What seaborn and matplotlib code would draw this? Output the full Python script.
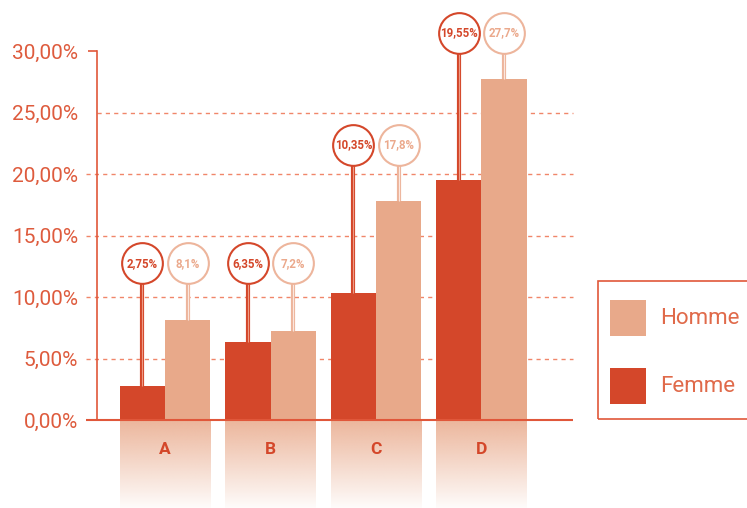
import numpy as np
import pandas as pd
import matplotlib
matplotlib.use("Agg")
import matplotlib.pyplot as plt
from matplotlib.patches import Rectangle
from matplotlib.colors import to_rgb
import seaborn as sns

# ---- data -------------------------------------------------------------
categories = ["A", "B", "C", "D"]
femme = [2.75, 6.35, 10.35, 19.55]
homme = [8.1, 7.2, 17.8, 27.7]
series = ["Femme", "Homme"]
y_ticks = [0, 5, 10, 15, 20, 25, 30]
y_tick_labels = ["0,00%", "5,00%", "10,00%", "15,00%", "20,00%", "25,00%", "30,00%"]

# height (in %) at which the value bubbles of each group sit
bubble_level = [12.75, 12.75, 22.35, 31.5]

# ---- style ------------------------------------------------------------
C_FEMME = "#D4472A"
C_HOMME = "#E8A98A"
C_AXIS = "#E0573A"
C_GRID = "#F0866A"
C_TEXT = "#DE5B3D"
C_HOMME_TXT = "#EBA98C"
C_LEGEND_TXT = "#E06A4A"

sns.set_style("white")
plt.rcParams["font.family"] = ["Roboto", "DejaVu Sans"]

W, H = 747, 508
fig = plt.figure(figsize=(W / 100, H / 100), dpi=100)
ax_left_px = 97
ax = fig.add_axes([ax_left_px / W, 0, 1 - ax_left_px / W, 1])

df = pd.DataFrame({
    "cat": categories * 2,
    "sexe": [series[0]] * len(categories) + [series[1]] * len(categories),
    "val": femme + homme,
})

sns.barplot(data=df, x="cat", y="val", hue="sexe", hue_order=series,
            palette={"Femme": C_FEMME, "Homme": C_HOMME}, width=0.86,
            saturation=1, linewidth=0, legend=False, ax=ax)

# axis geometry: x=0 at 165 px, 105.5 px per category; y=0 at 420 px, 12.3 px per %
px_x = 105.5
x0_px = 165
xlim = (-(x0_px - ax_left_px) / px_x, (W - x0_px) / px_x)
py = 12.3
ylim = (-(H - 420) / py, 420 / py)


def px_to_x(px):
    return (px - x0_px) / px_x


# faded panels below each group
grad_rgb = np.array(to_rgb("#E9A98A"))
alpha = np.linspace(0.85, 0.04, 200)
grad = np.zeros((200, 1, 4))
grad[:, 0, :3] = grad_rgb
grad[:, 0, 3] = alpha
half = 0.43
for i, cat in enumerate(categories):
    ax.imshow(grad, extent=[i - half, i + half, ylim[0], 0], aspect="auto",
              origin="upper", zorder=0, interpolation="bilinear")
    ax.text(i, -2.36, cat, ha="center", va="center", fontsize=12.5,
            fontweight="bold", color=C_FEMME)
ax.set_xlim(*xlim)
ax.set_ylim(*ylim)

# grid lines, base line and axis
gx0, gx1 = px_to_x(86), px_to_x(573)
for t in y_ticks[1:-1]:
    start = gx0 if t < 25 else px_to_x(ax_left_px)
    ax.hlines(t, start, gx1, colors=C_GRID, linestyles=(0, (3, 3)), lw=1,
              zorder=0.5, clip_on=False)
ax.hlines(30, px_to_x(88), px_to_x(ax_left_px), colors=C_AXIS, lw=1.2, clip_on=False)
ax.hlines(0, gx0, gx1, colors=C_AXIS, lw=1.5, zorder=3, clip_on=False)

for s in ["top", "right", "bottom"]:
    ax.spines[s].set_visible(False)
ax.spines["left"].set_bounds(0, 30)
ax.spines["left"].set_color(C_AXIS)
ax.spines["left"].set_linewidth(1.2)
ax.set_yticks(y_ticks, y_tick_labels)
ax.tick_params(axis="y", length=0, pad=13.7, labelsize=15, labelcolor=C_TEXT)
ax.set_xticks([])
ax.set_xlabel("")
ax.set_ylabel("")

# value bubbles with stems
radius_units = 20 / py
styles = {
    0: dict(edge=C_FEMME, stem=C_FEMME, inner="#EE9A84", txt=C_FEMME),
    1: dict(edge="#EDB59C", stem="#EDB59C", inner="#FBE6DD", txt=C_HOMME_TXT),
}
for k, cont in enumerate(ax.containers):
    st = styles[k]
    for i, bar in enumerate(cont):
        xc = bar.get_x() + bar.get_width() / 2
        val = bar.get_height()
        yb = bubble_level[i]
        ax.vlines(xc, val, yb - radius_units, colors=st["stem"], lw=3, zorder=2)
        ax.vlines(xc, val, yb - radius_units, colors=st["inner"], lw=0.8, zorder=2.1)
        ax.scatter([xc], [yb], s=860, facecolor="white", edgecolor=st["edge"],
                   linewidth=1.5, zorder=4, clip_on=False)
        label = f"{val:g}".replace(".", ",") + "%"
        ax.text(xc, yb, label, ha="center", va="center", fontsize=8.3,
                fontweight="bold", color=st["txt"], zorder=5)


# legend panel
def fx(px):
    return px / W


def fy(px):
    return 1 - px / H


fig.add_artist(Rectangle((fx(598), fy(419)), fx(170), fy(281) - fy(419),
                         transform=fig.transFigure, fill=False,
                         edgecolor=C_AXIS, lw=1.2))
for name, color, top in [("Homme", C_HOMME, 300), ("Femme", C_FEMME, 368)]:
    fig.add_artist(Rectangle((fx(610), fy(top + 36)), fx(36), fy(top) - fy(top + 36),
                             transform=fig.transFigure, facecolor=color,
                             edgecolor="none"))
    fig.text(fx(660), fy(top + 18), name, ha="left", va="center",
             fontsize=16, color=C_LEGEND_TXT)

fig.savefig("out.png", dpi=100)
